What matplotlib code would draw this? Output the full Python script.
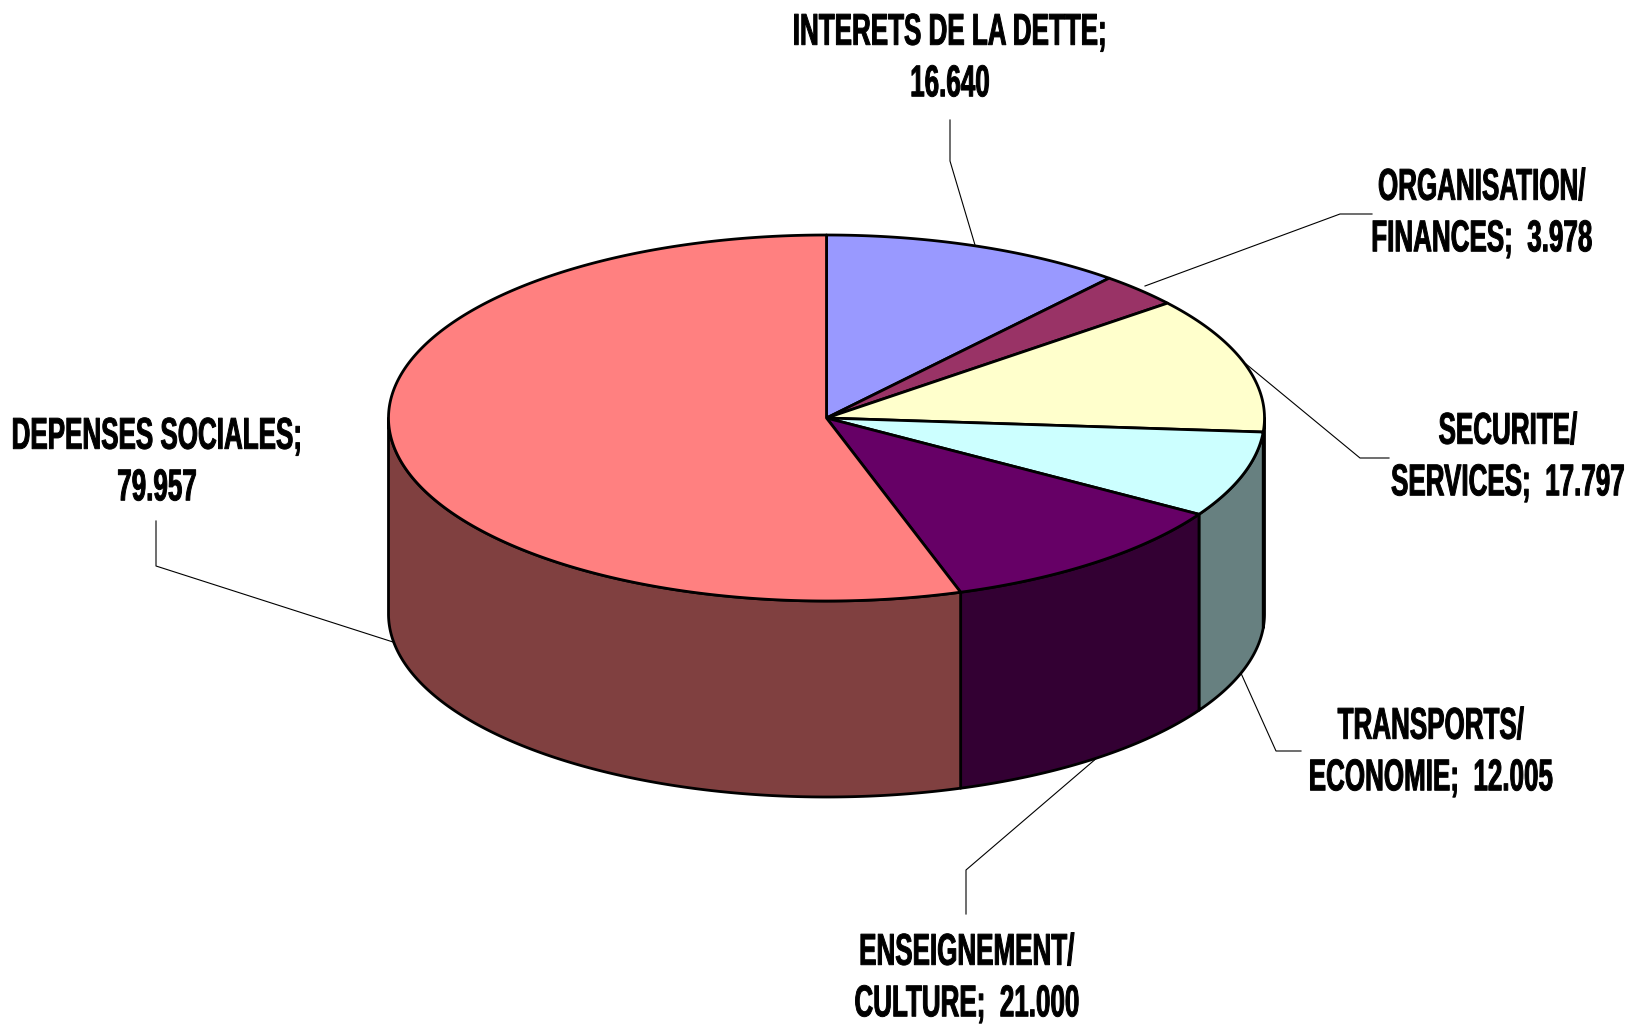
# 3D looking pie chart drawn by hand on a pixel sized axes
import numpy as np
import matplotlib
matplotlib.use("Agg")
import matplotlib.pyplot as plt
from matplotlib.patches import Polygon
from matplotlib.patheffects import AbstractPathEffect
from matplotlib.text import Text
from matplotlib.transforms import Affine2D, Bbox

labels = [
    "INTERETS DE LA DETTE;\n16.640",
    "ORGANISATION/\nFINANCES;  3.978",
    "SECURITE/\nSERVICES;  17.797",
    "TRANSPORTS/\nECONOMIE;  12.005",
    "ENSEIGNEMENT/\nCULTURE;  21.000",
    "DEPENSES SOCIALES;\n79.957",
]
# slice sizes as they are drawn in the picture, the perspective makes them
# differ a little from the printed numbers
slice_sizes = [16.9, 4.6, 18.2, 11.5, 17.0, 83.2]
top_colors = ["#9999FF", "#993366", "#FFFFCC", "#CCFFFF", "#660066", "#FF8080"]
side_colors = ["#55558E", "#552038", "#8E8E71", "#678080", "#330033", "#804040"]

# label anchor and leader line, in pixels of the 1632x1028 picture
label_pos = [(950, 59), (1482, 214), (1508, 458), (1431, 753), (967, 979), (157, 463)]
leaders = [
    [(950, 120), (950, 161), (975, 245)],
    [(1372, 214), (1340, 214), (1145, 286)],
    [(1389, 458), (1360, 458), (1246, 364)],
    [(1301, 751), (1276, 751), (1240, 671)],
    [(966, 914), (966, 870), (1098, 757)],
    [(156, 521), (156, 566), (393, 642)],
]

cx, cy = 826.5, 418
rx, ry = 438, 183
depth = 196
squeeze_x = 0.585


class Squeeze(AbstractPathEffect):
    # no narrow bold font here, so squeeze the glyphs around the label centre
    def __init__(self, x0, sx):
        super().__init__()
        self.x0 = x0
        self.sx = sx

    def draw_path(self, renderer, gc, tpath, affine, rgbFace=None):
        squeeze = Affine2D().translate(-self.x0, 0).scale(self.sx, 1).translate(self.x0, 0)
        gc.set_linewidth(0.7)
        renderer.draw_path(gc, tpath, affine + squeeze, rgbFace)


class NarrowText(Text):
    # report the squeezed extent, which is what really lands on the canvas
    def get_window_extent(self, renderer=None, dpi=None):
        bb = super().get_window_extent(renderer, dpi)
        mid = (bb.x0 + bb.x1) / 2
        half = bb.width / 2 * squeeze_x
        return Bbox.from_extents(mid - half, bb.y0, mid + half, bb.y1)


plt.rcParams["font.family"] = ["Liberation Sans", "DejaVu Sans"]

fig = plt.figure(figsize=(16.32, 10.28), dpi=100)
ax = fig.add_axes([0, 0, 1, 1])
ax.set_xlim(0, 1632)
ax.set_ylim(1028, 0)
ax.axis("off")

edges = np.concatenate([[0], np.cumsum(slice_sizes)]) / sum(slice_sizes) * 2 * np.pi


def rim(a, b, dy=0):
    t = np.linspace(a, b, max(int((b - a) * 120), 2))
    return np.column_stack([cx + rx * np.sin(t), cy + dy - ry * np.cos(t)])


# side walls: only the front half of the ellipse can be seen
for i in range(len(slice_sizes)):
    a = max(edges[i], np.pi / 2)
    b = min(edges[i + 1], 3 * np.pi / 2)
    if b <= a:
        continue
    wall = np.vstack([rim(a, b), rim(a, b, depth)[::-1]])
    ax.add_patch(Polygon(wall, closed=True, fc=side_colors[i], ec="black", lw=2.0, joinstyle="round", zorder=2))

# top of the pie
for i in range(len(slice_sizes)):
    top = np.vstack([[cx, cy], rim(edges[i], edges[i + 1])])
    ax.add_patch(Polygon(top, closed=True, fc=top_colors[i], ec="black", lw=2.0, joinstyle="round", zorder=2))

for pts in leaders:
    pts = np.array(pts)
    ax.plot(pts[:, 0], pts[:, 1], color="black", lw=0.8, zorder=1)

for text, (x, y) in zip(labels, label_pos):
    label = NarrowText(x, y, text, ha="center", va="center", fontsize=32, fontweight="bold",
                       linespacing=1.33, color="black", path_effects=[Squeeze(x, squeeze_x)])
    ax.add_artist(label)

fig.savefig("out.png", dpi=100)
